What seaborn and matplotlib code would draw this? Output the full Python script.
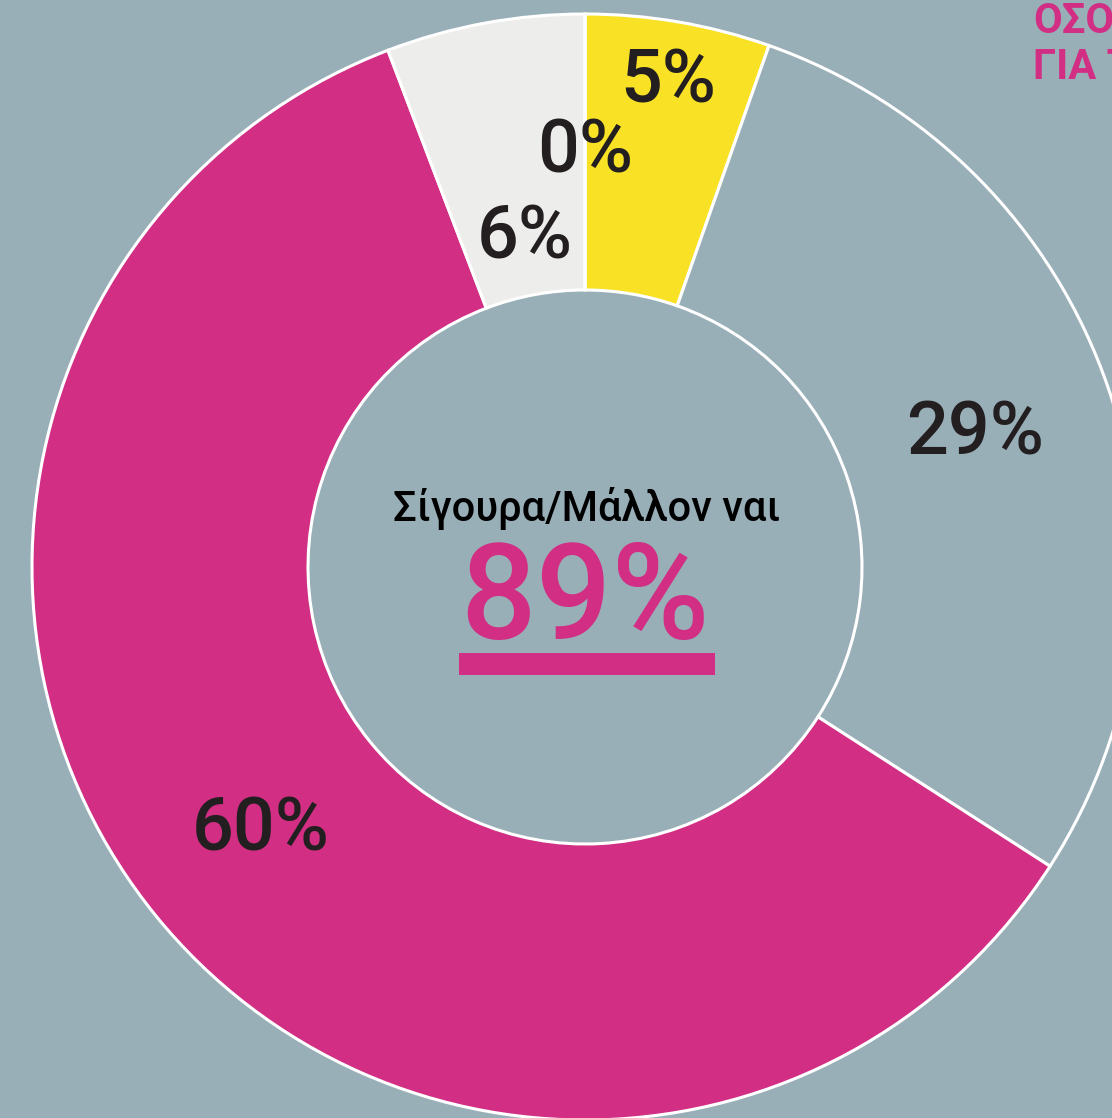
import matplotlib
matplotlib.use("Agg")
import matplotlib.pyplot as plt
import seaborn as sns
import numpy as np
from matplotlib.patches import Rectangle

# --- data (clockwise from 12 o'clock) ---
shares = [5.4, 28.7, 60.1, 5.8, 0.0]
slice_colors = ["#F9E126", "#99AFB8", "#D12E84", "#EDEEEC", "#EDEEEC"]
label_radius = [0.89, 0.745, 0.755, 0.605, 0.75]   # label distance as fraction of outer radius
center_title = "Σίγουρα/Μάλλον ναι"
center_value = "89%"
corner_text = "ΟΣΟΙ\nΓΙΑ ΤΟ"

BG = "#99AFB8"
DARK = "#231F20"
MAGENTA = "#D12E84"

sns.set_theme(style="white")
plt.rcParams['font.family'] = ['Roboto', 'DejaVu Sans']

W, H = 1112, 1118
fig = plt.figure(figsize=(W / 100, H / 100), dpi=100, facecolor=BG)
ax = fig.add_axes([0, 0, 1, 1])
ax.set_facecolor(BG)

cx, cy = 585, H - 567
r_out, r_in = 553, 277

ax.pie(shares, colors=sns.color_palette(slice_colors), startangle=90, counterclock=False,
       center=(cx, cy), radius=r_out, frame=True,
       wedgeprops=dict(width=r_out - r_in, edgecolor="white", linewidth=2.2))
ax.set_xlim(0, W)
ax.set_ylim(0, H)
ax.set_axis_off()

# percentage labels at slice mid-angles
cum = np.cumsum([0] + shares[:-1])
for s, c0, rf in zip(shares, cum, label_radius):
    ang = np.deg2rad(90 - (c0 + s / 2) / 100 * 360)
    ax.text(cx + rf * r_out * np.cos(ang), cy + rf * r_out * np.sin(ang),
            f"{s:.0f}%", ha="center", va="center", fontsize=53,
            fontweight="medium", color=DARK)

# centre text
ax.text(cx + 2, H - 508, center_title, ha="center", va="center",
        fontsize=30, fontweight="medium", color="black")
ax.text(cx, H - 603, center_value, ha="center", va="center",
        fontsize=96, fontweight="medium", color=MAGENTA)
ax.add_patch(Rectangle((459, H - 675), 256, 22, color=MAGENTA, lw=0))

# clipped heading in the corner
ax.text(1033, H - 1, corner_text, ha="left", va="top", fontsize=30,
        fontweight="bold", color=MAGENTA, linespacing=1.15)

plt.savefig("out.png", dpi=100, facecolor=BG)
